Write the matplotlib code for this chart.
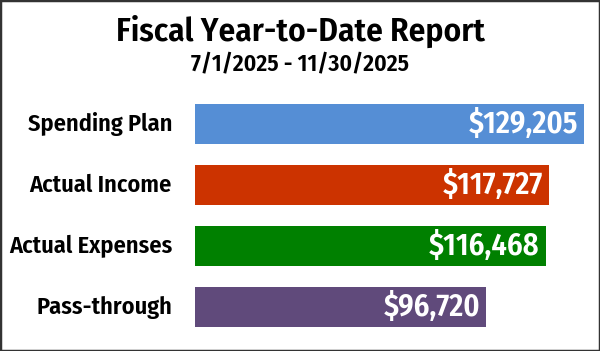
import matplotlib
matplotlib.use("Agg")
import matplotlib.pyplot as plt
from matplotlib.patches import Rectangle
from matplotlib import font_manager

categories = ["Spending Plan", "Actual Income", "Actual Expenses", "Pass-through"]
values = [129205, 117727, 116468, 96720]
colors = ["#558ED5", "#CC3300", "#008000", "#604A7B"]
title = "Fiscal Year-to-Date Report"
subtitle = "7/1/2025 - 11/30/2025"

# pick a condensed sans if one is installed
names = {f.name for f in font_manager.fontManager.ttflist}
wanted = ["Fira Sans Condensed", "Open Sans Condensed", "Roboto Condensed", "PT Sans Narrow",
          "Encode Sans Condensed", "IBM Plex Sans Condensed", "Archivo Narrow",
          "Liberation Sans Narrow", "Open Sans"]
fam = next((f for f in wanted if f in names), "DejaVu Sans")
plt.rcParams['font.family'] = [fam, 'DejaVu Sans']
wt = 'semibold' if fam == "Fira Sans Condensed" else 'bold'

W, H = 600, 351
fig = plt.figure(figsize=(W / 100, H / 100), dpi=100)

px = 389 / 129205  # pixels per dollar
# axes placed in pixel terms: x from 195 to 595, y from 93.5 to 337.5 (top-down)
ax = fig.add_axes([195 / W, (H - 337.5) / H, 400 / W, 244 / H])
idx = list(range(len(categories)))
ax.barh(idx, values, height=0.656, color=colors)
ax.set_xlim(0, 400 / px)
ax.set_ylim(3.5, -0.5)
ax.axis('off')

for i, (c, v) in enumerate(zip(categories, values)):
    ax.text(-23 / px, i, c, ha='right', va='center',
            fontsize=17.5, fontweight=wt, color='black')
    ax.text(v - 6 / px, i, "${:,}".format(v), ha='right', va='center',
            fontsize=22, fontweight=wt, color='white')

fig.text(0.5, 1 - 31 / H, title, ha='center', va='center', fontsize=24, fontweight=wt)
fig.text(0.5, 1 - 65 / H, subtitle, ha='center', va='center', fontsize=17, fontweight=wt)

fig.patches.append(Rectangle((0, 0), 1, 1, transform=fig.transFigure, fill=False,
                             edgecolor='#333333', linewidth=2.5))

fig.savefig("out.png", dpi=100)
